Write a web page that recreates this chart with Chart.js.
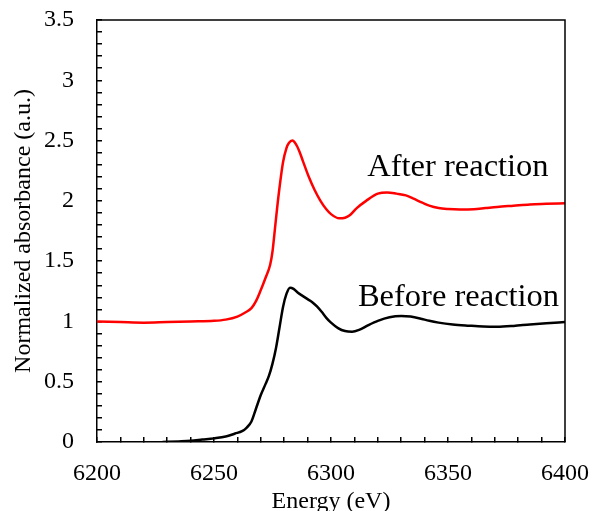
<!DOCTYPE html>
<html>
<head>
<meta charset="utf-8">
<script src="https://cdn.jsdelivr.net/npm/chart.js@4.4.1/dist/chart.umd.min.js"></script>
<style>
html,body{margin:0;padding:0;background:#fff;}
#wrap{width:592px;height:511px;position:relative;}
</style>
</head>
<body>
<div id="wrap"><canvas id="c" width="592" height="511"></canvas></div>
<script>
// Energy (eV) and normalized absorbance
const afterEnergy = [6200,6210,6220,6230,6240,6250,6255,6260,6263,6266,6268,6270,6272,6274,6275,6276,6277.5,6279.5,6281,6282,6283.5,6285,6286.5,6288,6290.5,6293,6295.5,6298,6300,6303.5,6306,6308,6311,6315,6320,6324,6328,6332,6335,6339,6342,6346,6350,6355,6361,6366,6371,6378,6385,6392,6400];
const afterValues = [1.0,0.995,0.99,0.995,1.0,1.005,1.015,1.04,1.07,1.11,1.17,1.26,1.36,1.47,1.58,1.76,2.03,2.32,2.44,2.48,2.5,2.47,2.41,2.33,2.2,2.09,2.0,1.93,1.89,1.855,1.86,1.88,1.94,2.0,2.06,2.07,2.06,2.045,2.02,1.985,1.96,1.94,1.932,1.928,1.93,1.94,1.95,1.96,1.97,1.975,1.98];

const beforeEnergy = [6228,6235,6240,6245,6250,6255,6259,6262,6264,6266,6268,6270,6272,6273.5,6275,6276.5,6278,6279.5,6281,6282.5,6284,6286,6288,6290,6292,6294,6296,6298,6300,6303,6306,6309,6312,6316,6320,6325,6330,6334,6338,6342,6346,6352,6359,6365,6371,6378,6385,6392,6400];
const beforeValues = [0,0.005,0.01,0.02,0.03,0.045,0.07,0.09,0.12,0.17,0.28,0.39,0.48,0.55,0.65,0.78,0.95,1.12,1.23,1.28,1.27,1.235,1.21,1.185,1.16,1.125,1.08,1.03,0.99,0.945,0.92,0.915,0.93,0.97,1.005,1.035,1.045,1.04,1.025,1.005,0.99,0.975,0.965,0.958,0.956,0.963,0.975,0.985,0.995];

const seriesNames = ['After reaction','Before reaction'];
// label anchors in data space: [energy, absorbance]
const labelAnchors = [[6315.5, 2.21],[6311.5, 1.13]];

const xMin = 6200, xMax = 6400, xMajor = 50, xMinor = 10;
const yMin = 0, yMax = 3.5, yMajor = 0.5, yMinor = 0.1;

const serif = "'Liberation Serif','Times New Roman',serif";

const toPts = (xs, ys) => xs.map((x,i)=>({x:x, y:ys[i]}));

const framePlugin = {
  id:'frame',
  afterDatasetsDraw(chart){
    const {ctx, chartArea:a} = chart;
    ctx.save();
    ctx.strokeStyle = '#000';
    ctx.lineWidth = 1.5;
    ctx.beginPath();
    ctx.moveTo(a.left, a.top); ctx.lineTo(a.right, a.top); ctx.lineTo(a.right, a.bottom);
    ctx.stroke();
    ctx.restore();
  },
  afterDraw(chart){
    const {ctx} = chart;
    const xs = chart.scales.x, ys = chart.scales.y;
    ctx.save();
    ctx.fillStyle = '#000';
    ctx.font = '32.5px ' + serif;
    ctx.textAlign = 'left';
    ctx.textBaseline = 'alphabetic';
    labelAnchors.forEach((p,i)=>{
      ctx.fillText(seriesNames[i], xs.getPixelForValue(p[0]), ys.getPixelForValue(p[1]));
    });
    ctx.restore();
  }
};

new Chart(document.getElementById('c'), {
  type:'line',
  data:{
    datasets:[
      {label:seriesNames[0], data:toPts(afterEnergy, afterValues), borderColor:'#ff0000', borderWidth:2.5, pointRadius:0, cubicInterpolationMode:'monotone', fill:false},
      {label:seriesNames[1], data:toPts(beforeEnergy, beforeValues), borderColor:'#000000', borderWidth:2.5, pointRadius:0, cubicInterpolationMode:'monotone', fill:false}
    ]
  },
  options:{
    responsive:false,
    animation:false,
    layout:{padding:{left:0, top:20, right:27, bottom:0}},
    plugins:{legend:{display:false}, tooltip:{enabled:false}},
    scales:{
      x:{
        type:'linear', min:xMin, max:xMax,
        border:{display:true, color:'#000', width:1.5},
        grid:{display:true, drawOnChartArea:false, drawTicks:true, tickLength:-5, color:'#000', lineWidth:1.5},
        ticks:{stepSize:xMinor, autoSkip:false, maxRotation:0, padding:22, color:'#000',
          font:{family:serif, size:24},
          callback:(v)=> (Math.abs(v % xMajor) < 1e-6 ? String(v) : '')},
        title:{display:true, text:'Energy (eV)', color:'#000', font:{family:serif, size:24}, padding:{top:0,bottom:-5}},
        afterFit:(s)=>{ s.height = 69; s.paddingLeft = 0; s.paddingRight = 0; s.paddingTop = 0; s.paddingBottom = 0; }
      },
      y:{
        type:'linear', min:yMin, max:yMax,
        border:{display:true, color:'#000', width:1.5},
        grid:{display:true, drawOnChartArea:false, drawTicks:true, tickLength:-5, color:'#000', lineWidth:1.5},
        ticks:{stepSize:yMinor, autoSkip:false, padding:28, color:'#000',
          font:{family:serif, size:24},
          callback:(v)=>{ const r = v / yMajor; return Math.abs(r - Math.round(r)) < 1e-6 ? String(Math.round(r)*yMajor) : ''; }},
        title:{display:true, text:'Normalized absorbance (a.u.)', color:'#000', font:{family:serif, size:24}, padding:{top:9,bottom:0}},
        afterFit:(s)=>{ s.width = 97; s.paddingLeft = 0; s.paddingRight = 0; s.paddingTop = 0; s.paddingBottom = 0; }
      }
    }
  },
  plugins:[framePlugin]
});
</script>
</body>
</html>
